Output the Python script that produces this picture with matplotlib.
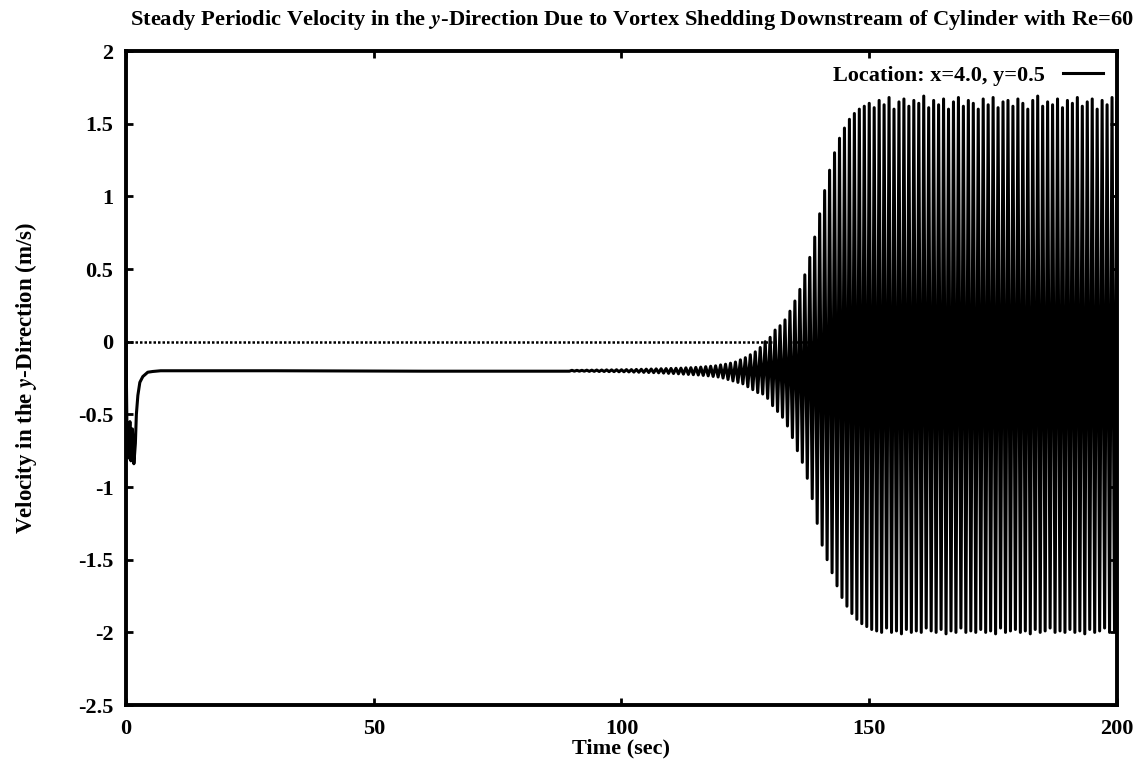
import numpy as np
import matplotlib
matplotlib.use("Agg")
import matplotlib.pyplot as plt

plt.rcParams['font.family'] = ['Liberation Serif', 'DejaVu Serif']
plt.rcParams['font.weight'] = 'bold'
plt.rcParams['axes.titleweight'] = 'bold'
plt.rcParams['axes.labelweight'] = 'bold'
plt.rcParams['mathtext.fontset'] = 'stix'
plt.rcParams['mathtext.default'] = 'it'
plt.rcParams['axes.unicode_minus'] = False

# start-up transient, then the flat wake value (time in s, v in m/s)
start_t = [0.0, 0.2, 0.5, 0.8, 1.0, 1.3, 1.6, 1.9, 2.1, 2.4, 2.8, 3.4, 4.4, 5.4, 7.0, 10.0, 30.0, 60.0, 89.5]
start_v = [0.0, -0.60, -0.80, -0.55, -0.82, -0.60, -0.84, -0.70, -0.50, -0.37, -0.28, -0.24, -0.21,
           -0.205, -0.20, -0.20, -0.20, -0.203, -0.203]

# vortex shedding: one max and one min per cycle
shed_t0 = 90.0
shed_period = 1.0
upper_peaks = [-0.197, -0.197, -0.197, -0.196, -0.196, -0.195, -0.195, -0.194, -0.194, -0.193,
               -0.193, -0.192, -0.192, -0.191, -0.190, -0.189, -0.188, -0.187, -0.186, -0.185,
               -0.184, -0.183, -0.182, -0.180, -0.179, -0.177, -0.175, -0.172, -0.169, -0.166,
               -0.160, -0.155, -0.148, -0.140, -0.125, -0.110, -0.090, -0.070, -0.040, 0.0,
               0.03, 0.08, 0.11, 0.15, 0.21, 0.28, 0.36, 0.46, 0.58, 0.72,
               0.88, 1.04, 1.18, 1.30, 1.40, 1.47, 1.53, 1.57, 1.60, 1.62,
               1.64, 1.61, 1.66, 1.63, 1.68, 1.60, 1.65, 1.67, 1.62, 1.66,
               1.64, 1.69, 1.61, 1.66, 1.63, 1.67, 1.60, 1.65, 1.68, 1.62,
               1.66, 1.64, 1.60, 1.67, 1.63, 1.68, 1.61, 1.65, 1.66, 1.62,
               1.67, 1.64, 1.60, 1.66, 1.69, 1.62, 1.65, 1.63, 1.67, 1.61,
               1.66, 1.64, 1.68, 1.62, 1.65, 1.67, 1.60, 1.66, 1.63, 1.68,
               1.65]
lower_peaks = [-0.203, -0.203, -0.203, -0.204, -0.204, -0.205, -0.205, -0.206, -0.206, -0.207,
               -0.207, -0.208, -0.209, -0.210, -0.211, -0.212, -0.213, -0.214, -0.216, -0.218,
               -0.219, -0.221, -0.223, -0.225, -0.227, -0.229, -0.232, -0.235, -0.239, -0.243,
               -0.25, -0.26, -0.27, -0.28, -0.29, -0.31, -0.33, -0.35, -0.36, -0.39,
               -0.44, -0.48, -0.52, -0.58, -0.66, -0.75, -0.83, -0.94, -1.08, -1.25,
               -1.40, -1.50, -1.59, -1.68, -1.76, -1.82, -1.87, -1.91, -1.94, -1.96,
               -1.98, -1.99, -2.00, -1.97, -2.00, -1.99, -2.01, -1.98, -2.00, -1.99,
               -2.00, -1.97, -1.99, -2.00, -1.98, -2.01, -1.99, -2.00, -1.97, -2.00,
               -1.99, -2.00, -1.98, -2.00, -1.99, -2.01, -1.97, -2.00, -1.99, -1.98,
               -2.00, -1.99, -2.01, -1.98, -2.00, -1.99, -1.97, -2.00, -1.99, -2.00,
               -1.98, -2.00, -1.99, -2.01, -1.98, -2.00, -1.99, -1.97, -2.00, -1.99,
               -1.99]

xticks = [0, 50, 100, 150, 200]
yticks = [-2.5, -2, -1.5, -1, -0.5, 0, 0.5, 1, 1.5, 2]
ytick_labels = ['-2.5', '-2', '-1.5', '-1', '-0.5', '0', '0.5', '1', '1.5', '2']

# interleave the peaks into one trace
peak_t = shed_t0 + shed_period * np.arange(len(upper_peaks))
shed_t = np.column_stack([peak_t, peak_t + shed_period / 2]).ravel()
shed_v = np.column_stack([upper_peaks, lower_peaks]).ravel()
t = np.concatenate([start_t, shed_t])
v = np.concatenate([start_v, shed_v])

fig = plt.figure(figsize=(11.42, 7.65), dpi=100)
ax = fig.add_axes([0.1103, 0.0784, 0.8678, 0.8549])

ax.axhline(0, color='black', lw=1.8, ls=(0, (1, 0.8)), zorder=1)
ax.plot(t, v, color='black', lw=2.2, label='Location: x=4.0, y=0.5', zorder=2)

ax.set_xlim(0, 200)
ax.set_ylim(-2.5, 2)
ax.set_xticks(xticks)
ax.set_yticks(yticks)
ax.set_yticklabels(ytick_labels)
ax.tick_params(direction='in', length=5, width=2, top=True, right=True, labelsize=16)
ax.tick_params(axis='x', pad=10)
ax.tick_params(axis='y', pad=9)
for s in ax.spines.values():
    s.set_linewidth(2.8)

ax.set_xlabel('Time (sec)', fontsize=16, labelpad=0)
ax.set_ylabel('Velocity in the $y$-Direction (m/s)', fontsize=16.5, labelpad=28)
ax.set_title('Steady Periodic Velocity in the $y$-Direction Due to Vortex Shedding Downstream of Cylinder with Re=60',
             fontsize=16.2, pad=19, x=0.511)

ax.legend(loc='upper right', frameon=False, markerfirst=False, fontsize=16,
          handlelength=1.8, borderaxespad=0.25)

fig.savefig('out.png', dpi=100)
